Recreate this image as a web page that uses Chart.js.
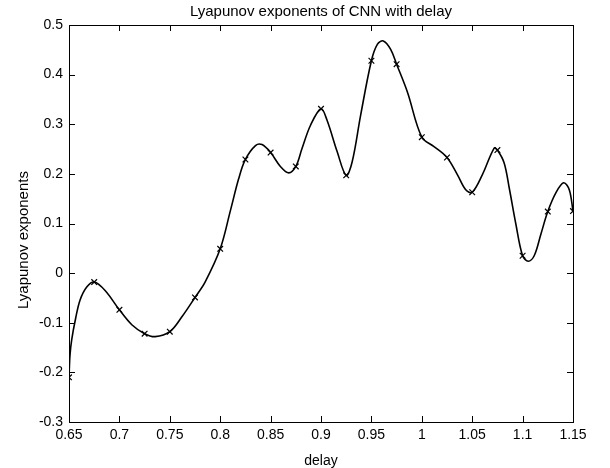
<!DOCTYPE html>
<html>
<head>
<meta charset="utf-8">
<script src="https://cdn.jsdelivr.net/npm/chart.js@4/dist/chart.umd.min.js"></script>
<style>
  body { margin: 0; background: #fff; }
  #wrap { width: 610px; height: 468px; }
</style>
</head>
<body>
<div id="wrap"><canvas id="lyap" width="610" height="468"></canvas></div>
<script>
// Data:
// marker points (every 0.025 in delay)
var delayPts = [0.65, 0.675, 0.7, 0.725, 0.75, 0.775, 0.8, 0.825, 0.85, 0.875, 0.9,
                0.925, 0.95, 0.975, 1.0, 1.025, 1.05, 1.075, 1.1, 1.125, 1.15];
var lyapPts = [-0.21, -0.018, -0.074, -0.122, -0.118, -0.049, 0.049, 0.229, 0.243, 0.215, 0.331,
               0.197, 0.428, 0.421, 0.274, 0.233, 0.163, 0.248, 0.035, 0.124, 0.125];

// the smooth curve
var curveX = [0.65, 0.651, 0.6527, 0.6566, 0.661, 0.6676, 0.675, 0.6858, 0.7, 0.7123,
              0.725, 0.7355, 0.75, 0.762, 0.775, 0.785, 0.8, 0.81, 0.8183, 0.825,
              0.835, 0.8415, 0.85, 0.8597, 0.868, 0.875, 0.881, 0.8896, 0.9, 0.906,
              0.916, 0.925, 0.931, 0.9393, 0.95, 0.9559, 0.9618, 0.9691, 0.975, 0.9857,
              1.0, 1.0121, 1.025, 1.0354, 1.0436, 1.05, 1.06, 1.0718, 1.075, 1.0817,
              1.0867, 1.0933, 1.1, 1.1056, 1.1115, 1.1182, 1.125, 1.1331, 1.1407, 1.1463, 1.15];
var curveY = [-0.21, -0.165, -0.134, -0.091, -0.054, -0.028, -0.018, -0.035, -0.074, -0.104,
              -0.122, -0.128, -0.118, -0.088, -0.049, -0.018, 0.049, 0.125, 0.19, 0.229,
              0.257, 0.259, 0.243, 0.215, 0.202, 0.215, 0.25, 0.298, 0.331, 0.308,
              0.245, 0.197, 0.225, 0.318, 0.428, 0.461, 0.468, 0.451, 0.421, 0.365,
              0.274, 0.255, 0.233, 0.198, 0.168, 0.163, 0.198, 0.252, 0.248, 0.222,
              0.172, 0.099, 0.035, 0.024, 0.035, 0.079, 0.124, 0.162, 0.182, 0.168, 0.125];

// Axis ticks
var xTicks = [0.65, 0.7, 0.75, 0.8, 0.85, 0.9, 0.95, 1.0, 1.05, 1.1, 1.15];
var yTicks = [-0.3, -0.2, -0.1, 0, 0.1, 0.2, 0.3, 0.4, 0.5];

var titleText = 'Lyapunov exponents of CNN with delay';
var xLabel = 'delay';
var yLabel = 'Lyapunov exponents';

var FONT = '"Liberation Sans", Arial, sans-serif';

function toXY(xs, ys) {
    var out = [];
    for (var i = 0; i < xs.length; i++) out.push({x: xs[i], y: ys[i]});
    return out;
}

function fmt(v) {
    return String(+v.toFixed(3));
}

/**
 * Matlab style box: frame, inward ticks on all four sides, title and axis labels.
 */
var matlabBox = {
    id: 'matlabBox',
    afterDraw: function (chart) {
        var ctx = chart.ctx;
        var a = chart.chartArea;
        var xs = chart.scales.x, ys = chart.scales.y;
        var tl = 6;
        ctx.save();
        ctx.strokeStyle = '#000';
        ctx.lineWidth = 1;
        ctx.beginPath();
        xTicks.forEach(function (t) {
            var px = Math.round(xs.getPixelForValue(t)) + 0.5;
            ctx.moveTo(px, a.bottom); ctx.lineTo(px, a.bottom - tl);
            ctx.moveTo(px, a.top); ctx.lineTo(px, a.top + tl);
        });
        yTicks.forEach(function (t) {
            var py = Math.round(ys.getPixelForValue(t)) + 0.5;
            ctx.moveTo(a.left, py); ctx.lineTo(a.left + tl, py);
            ctx.moveTo(a.right, py); ctx.lineTo(a.right - tl, py);
        });
        ctx.stroke();
        ctx.strokeRect(Math.round(a.left) + 0.5, Math.round(a.top) + 0.5,
                       Math.round(a.right - a.left), Math.round(a.bottom - a.top));

        ctx.fillStyle = '#000';
        ctx.textAlign = 'center';
        ctx.textBaseline = 'middle';
        ctx.font = '15px ' + FONT;
        ctx.fillText(titleText, (a.left + a.right) / 2, 12);
        ctx.font = '14px ' + FONT;
        ctx.fillText(xLabel, (a.left + a.right) / 2, 461);
        ctx.translate(24, 240);
        ctx.rotate(-Math.PI / 2);
        ctx.font = '15px ' + FONT;
        ctx.fillText(yLabel, 0, 0);
        ctx.restore();
    }
};

new Chart(document.getElementById('lyap'), {
    type: 'scatter',
    data: {
        datasets: [{
            data: toXY(curveX, curveY),
            showLine: true,
            borderColor: '#000',
            borderWidth: 1.6,
            tension: 0.35,
            pointRadius: 0
        }, {
            data: toXY(delayPts, lyapPts),
            showLine: false,
            pointStyle: 'crossRot',
            pointRadius: 4,
            borderColor: '#000',
            borderWidth: 1.2,
            backgroundColor: '#000'
        }]
    },
    options: {
        responsive: false,
        animation: false,
        layout: { padding: { top: 25, right: 37, left: 0, bottom: 0 } },
        plugins: {
            legend: { display: false },
            tooltip: { enabled: false },
            title: { display: false }
        },
        scales: {
            x: {
                type: 'linear',
                min: 0.65, max: 1.15,
                grid: { display: false, drawTicks: false },
                border: { display: false },
                afterBuildTicks: function (s) { s.ticks = xTicks.map(function (v) { return {value: v}; }); },
                afterFit: function (s) { s.height = 46; },
                ticks: {
                    padding: 5,
                    maxRotation: 0,
                    autoSkip: false,
                    color: '#000',
                    font: { family: FONT, size: 14 },
                    callback: function (v) { return fmt(v); }
                }
            },
            y: {
                type: 'linear',
                min: -0.3, max: 0.5,
                grid: { display: false, drawTicks: false },
                border: { display: false },
                afterBuildTicks: function (s) { s.ticks = yTicks.map(function (v) { return {value: v}; }); },
                afterFit: function (s) { s.width = 69; },
                ticks: {
                    padding: 6,
                    autoSkip: false,
                    color: '#000',
                    font: { family: FONT, size: 14 },
                    callback: function (v) { return fmt(v); }
                }
            }
        }
    },
    plugins: [matlabBox]
});
</script>
</body>
</html>
